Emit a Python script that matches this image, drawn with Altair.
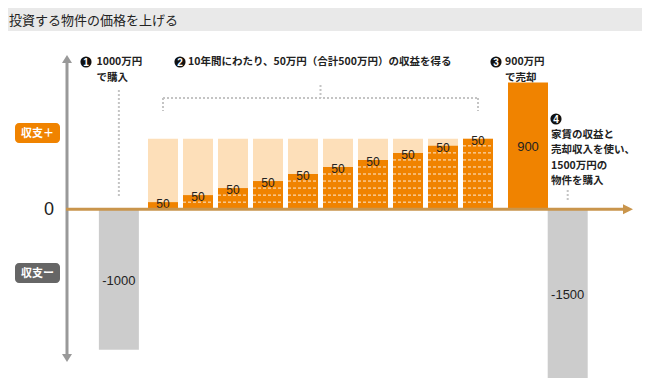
import altair as alt
import pandas as pd

# ---------------- data ----------------
title_text = "投資する物件の価格を上げる"
years = [1, 2, 3, 4, 5, 6, 7, 8, 9, 10]
yearly_income = [50, 50, 50, 50, 50, 50, 50, 50, 50, 50]
phase_names = ["購入", "売却", "買い替え"]
phase_values = [-1000, 900, -1500]
phase_kind = ["支出", "収入", "支出"]
notes = [
    ["1000万円", "で購入"],
    ["10年間にわたり、50万円（合計500万円）の収益を得る"],
    ["900万円", "で売却"],
    ["家賃の収益と", "売却収入を使い、", "1500万円の", "物件を購入"],
]

# ---------------- tables ----------------
cum = []
s = 0
for v in yearly_income:
    s += v
    cum.append(s)
total = sum(yearly_income)
n = len(years)
income_df = pd.DataFrame({"i": years, "income": yearly_income, "cum": cum,
                          "total": [total] * n})
dash_rows = []
for k, c in zip(years, cum):
    for lvl in cum:
        if lvl < c:
            dash_rows.append({"i": k, "level": lvl})
dash_df = pd.DataFrame(dash_rows)
phase_df = pd.DataFrame({
    "i": [0, n + 1, n + 2],
    "name": phase_names,
    "value": phase_values,
    "kind": phase_kind,
    "label": [str(v) for v in phase_values],
})
dummy = pd.DataFrame({"k": [0]})

# ---------------- style ----------------
W, H = 634, 370
JP = "Noto Sans CJK JP"
NUM = "Liberation Sans"
ORANGE = "#F08300"
LIGHT = "#FDDFB9"
GRAY = "#CCCCCC"
GOLD = "#C9954C"
AXGRAY = "#999999"
DOT = "#C4C4C4"

YMIN, YMAX = -1200, 1430
X_SCALE = alt.Scale(domain=[0, 1, n, n + 1, n + 2], range=[105, 155, 470, 520, 565], nice=False, zero=False)
Y_SCALE = alt.Scale(domain=[YMIN, YMAX], nice=False, zero=False)


def X(f):
    return alt.X(f, scale=X_SCALE, axis=None)


def Y(f):
    return alt.Y(f, scale=Y_SCALE, axis=None)


def XD(v):
    return alt.XDatum(v, scale=X_SCALE, axis=None)


def YD(v):
    return alt.YDatum(v, scale=Y_SCALE, axis=None)


layers = []

# title band
layers.append(alt.Chart(dummy).mark_rect(color="#E9E9E9").encode(
    x=alt.value(0), x2=alt.value(W), y=alt.value(0), y2=alt.value(23)))
layers.append(alt.Chart(dummy).mark_text(
    align="left", baseline="middle", font=JP, fontSize=13, color="#222222").encode(
    x=alt.value(1), y=alt.value(12.5), text=alt.value(title_text)))

# income bars
layers.append(alt.Chart(income_df).mark_bar(width=30, color=LIGHT).encode(
    x=X("i:Q"), y=Y("total:Q"), y2=alt.datum(0)))
layers.append(alt.Chart(income_df).mark_bar(width=30, color=ORANGE).encode(
    x=X("i:Q"), y=Y("cum:Q"), y2=alt.datum(0)))
layers.append(alt.Chart(dash_df).mark_rule(
    color="white", strokeWidth=1, strokeDash=[3, 2], opacity=0.85, xOffset=-15, x2Offset=15).encode(
    x=X("i:Q"), x2=alt.X2("i"), y=Y("level:Q")))
layers.append(alt.Chart(income_df).mark_text(
    baseline="middle", dy=2, font=NUM, fontSize=12, color="#222222").encode(
    x=X("i:Q"), y=Y("cum:Q"), text="income:Q"))

# phase bars
layers.append(alt.Chart(phase_df).mark_bar(width=40, clip=True).encode(
    x=X("i:Q"), y=Y("value:Q"), y2=alt.datum(0),
    color=alt.Color("kind:N", scale=alt.Scale(domain=["支出", "収入"], range=[GRAY, ORANGE]), legend=None)))
layers.append(alt.Chart(phase_df).transform_calculate(
    ly=f"max(datum.value, {YMIN}) / 2").mark_text(
    baseline="middle", dy=1, font=NUM, fontSize=13, color="#222222").encode(
    x=X("i:Q"), y=Y("ly:Q"), text="label:N"))

# axes
layers.append(alt.Chart(dummy).mark_rule(color=AXGRAY, strokeWidth=3).encode(
    x=alt.value(59), y=alt.value(54), y2=alt.value(347)))
layers.append(alt.Chart(dummy).mark_point(
    shape="M-1,0.8L0,-0.8L1,0.8Z", filled=True, color=AXGRAY, size=100, opacity=1, strokeWidth=0).encode(
    x=alt.value(59), y=alt.value(51)))
layers.append(alt.Chart(dummy).mark_point(
    shape="M-1,-0.8L0,0.8L1,-0.8Z", filled=True, color=AXGRAY, size=100, opacity=1, strokeWidth=0).encode(
    x=alt.value(59), y=alt.value(350)))
layers.append(alt.Chart(dummy).mark_rule(color=GOLD, strokeWidth=3).encode(
    x=alt.value(58), x2=alt.value(617), y=YD(0)))
layers.append(alt.Chart(dummy).mark_point(
    shape="M-1,-1L1,0L-1,1Z", filled=True, color=GOLD, size=100, opacity=1, strokeWidth=0).encode(
    x=alt.value(620), y=YD(0)))
layers.append(alt.Chart(dummy).mark_text(
    baseline="middle", dy=1, font=NUM, fontSize=18, color="#222222").encode(
    x=alt.value(41), y=YD(0), text=alt.value("0")))

# badges
for y0, col, txt in [(115, ORANGE, "収支＋"), (255, "#666666", "収支ー")]:
    layers.append(alt.Chart(dummy).mark_rect(color=col, cornerRadius=4).encode(
        x=alt.value(7), x2=alt.value(52), y=alt.value(y0), y2=alt.value(y0 + 20)))
    layers.append(alt.Chart(dummy).mark_text(
        baseline="middle", font=JP, fontSize=11, fontWeight="bold", color="white").encode(
        x=alt.value(29.5), y=alt.value(y0 + 10.5), text=alt.value(txt)))

# dotted leader lines
dot = dict(color=DOT, strokeWidth=2, strokeDash=[2, 2])
layers.append(alt.Chart(dummy).mark_rule(**dot).encode(
    x=XD(0), y=alt.value(82), y2=alt.value(189)))
layers.append(alt.Chart(dummy).mark_rule(**dot).encode(
    x=XD(1), x2=alt.X2Datum(n), y=alt.value(90)))
for xv in [1, n]:
    layers.append(alt.Chart(dummy).mark_rule(**dot).encode(
        x=XD(xv), y=alt.value(90), y2=alt.value(103)))
layers.append(alt.Chart(dummy).mark_rule(**dot).encode(
    x=XD((1 + n) / 2), y=alt.value(77), y2=alt.value(90)))
layers.append(alt.Chart(dummy).mark_rule(**dot).encode(
    x=XD(n + 2), y=alt.value(182), y2=alt.value(193)))

# numbered notes: one text mark per line
LH = 15.5
FS = 10.5
note_pos = [((78, 54), (88.5, 54)), ((172, 54), (180, 54)),
            ((488, 54), (497, 54)), ((548, 111), (543, 126.5))]
for num, ((cx, cy), (tx, ty)), lines in zip(["1", "2", "3", "4"], note_pos, notes):
    layers.append(alt.Chart(dummy).mark_point(
        shape="circle", filled=True, color="#111111", size=125, opacity=1, strokeWidth=0).encode(
        x=alt.value(cx), y=alt.value(cy)))
    layers.append(alt.Chart(dummy).mark_text(
        baseline="middle", font=NUM, fontSize=10, fontWeight="bold", color="white").encode(
        x=alt.value(cx), y=alt.value(cy + 1), text=alt.value(num)))
    for j, line in enumerate(lines):
        layers.append(alt.Chart(dummy).mark_text(
            align="left", baseline="middle", font=JP, fontSize=FS, fontWeight="bold",
            color="#222222").encode(
            x=alt.value(tx), y=alt.value(ty + j * LH), text=alt.value(line)))

chart = alt.layer(*layers).properties(
    width=W, height=H, padding=0,
    autosize=alt.AutoSizeParams(type="none"),
).configure_view(strokeWidth=0)

chart.save("out.html", embed_options={"renderer": "svg", "actions": False})
